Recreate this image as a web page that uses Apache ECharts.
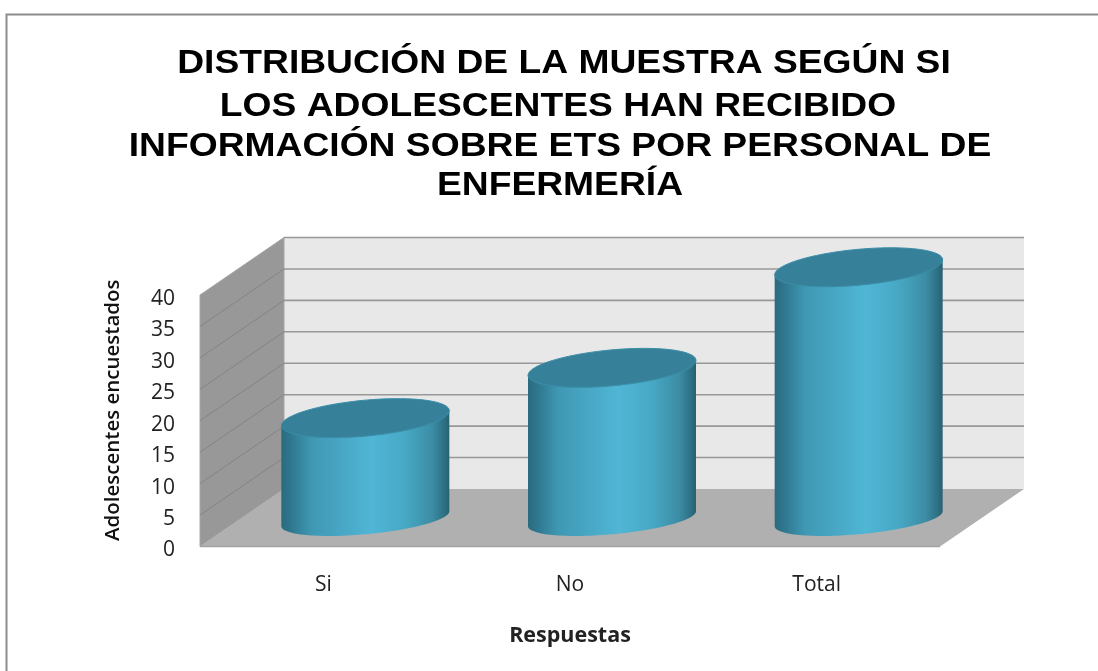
<!DOCTYPE html>
<html><head><meta charset="utf-8">
<style>html,body{margin:0;padding:0;background:#fff}#c{width:1098px;height:671px}</style>
<script src="https://cdn.jsdelivr.net/npm/echarts@6/dist/echarts.min.js"></script>
</head><body><div id="c"></div>
<script>
const categories = ['Si', 'No', 'Total'];
const values = [16, 24, 40];
const yTicks = [0, 5, 10, 15, 20, 25, 30, 35, 40];
const titleLines = [
  'DISTRIBUCIÓN DE LA MUESTRA SEGÚN SI',
  'LOS ADOLESCENTES HAN RECIBIDO',
  'INFORMACIÓN SOBRE ETS POR PERSONAL DE',
  'ENFERMERÍA'
];
const titleMiddles = [64, 107, 147, 186];
const titleCenters = [564, 558, 560, 560];
const depthX = 84, depthY = -57.5;

const bodyGradient = {type:'linear',x:0,y:0,x2:1,y2:0,colorStops:[
  {offset:0,color:'#2b6a7e'},{offset:0.06,color:'#2f7890'},{offset:0.18,color:'#3f98b3'},
  {offset:0.54,color:'#50b6d6'},{offset:0.74,color:'#47a8c4'},{offset:0.9,color:'#3c8ca4'},
  {offset:0.97,color:'#2d7084'},{offset:1,color:'#28606f'}]};

function ellipsePoints(cx, cy, a, tilt, b, from, to) {
  const pts = [];
  const n = 72;
  for (let i = 0; i <= n; i++) {
    const t = from + (to - from) * i / n;
    pts.push([cx + a * Math.cos(t), cy - tilt * Math.cos(t) + b * Math.sin(t)]);
  }
  return pts;
}

function renderWalls(params, api) {
  const cs = params.coordSys;
  const y0 = api.coord([0, 0])[1], yTop = api.coord([0, 40])[1];
  const xL = cs.x, xR = cs.x + cs.width;
  const poly = (points, fill, stroke) => ({type:'polygon', shape:{points},
    style:{fill, stroke: stroke || null, lineWidth: stroke ? 1 : 0}});
  return {type:'group', children:[
    poly([[xL+depthX,yTop+depthY],[xR+depthX,yTop+depthY],[xR+depthX,y0+depthY],[xL+depthX,y0+depthY]],'#e8e8e8'),
    poly([[xL,yTop],[xL+depthX,yTop+depthY],[xL+depthX,y0+depthY],[xL,y0]],'#989898','#a6a6a6'),
    poly([[xL,y0],[xL+depthX,y0+depthY],[xR+depthX,y0+depthY],[xR,y0]],'#b0b0b0'),
    {type:'line', shape:{x1:xL,y1:y0,x2:xR,y2:y0}, style:{stroke:'#a2a2a2',lineWidth:1.5}}
  ]};
}

function renderGrid(params, api) {
  const cs = params.coordSys;
  const t = api.value(1);
  const y = api.coord([0, t])[1];
  const xL = cs.x, xR = cs.x + cs.width;
  const kids = [];
  if (t > 0) {
    kids.push({type:'line', shape:{x1:xL+depthX,y1:y+depthY,x2:xR+depthX,y2:y+depthY},
      style:{stroke:'#8f8f8f',lineWidth:1.6,opacity:0.9}});
    if (t < 40) kids.push({type:'line', shape:{x1:xL,y1:y,x2:xL+depthX,y2:y+depthY},
      style:{stroke:'#848484',lineWidth:1}});
  }
  return {type:'group', children:kids};
}

function renderCylinder(params, api) {
  const c0 = api.coord([api.value(0), 0]);
  const c1 = api.coord([api.value(0), api.value(1)]);
  const cx = c0[0] + depthX / 2;
  const by = c0[1] + depthY / 2 + 1;
  const ty = c1[1] + depthY / 2 + 1;
  const a = 84, tilt = 7.5, bTop = 18, bBase = 15.5;
  const lower = ellipsePoints(cx, by, a, tilt, bBase, Math.PI, 0);
  const body = lower.concat([[cx + a, ty - tilt], [cx - a, ty + tilt]]);
  return {type:'group', children:[
    {type:'polygon', shape:{points:body}, style:{fill:bodyGradient}},
    {type:'polygon', shape:{points:ellipsePoints(cx, ty, a, tilt, bTop, 0, Math.PI*2)},
      style:{fill:'#37809a', stroke:'#3a8ea8', lineWidth:1}}
  ]};
}

const chart = echarts.init(document.getElementById('c'), null, {renderer:'canvas'});
chart.setOption({
  animation:false,
  backgroundColor:'#fff',
  graphic:[{type:'polyline',silent:true,shape:{points:[[6.5,671],[6.5,14.5],[1098,14.5]]},
    style:{stroke:'#8c8c8c',lineWidth:2,fill:null}}].concat(titleLines.map((text,i)=>({
      type:'text',silent:true,x:titleCenters[i],y:titleMiddles[i],scaleX:1.095,
      style:{text,textAlign:'center',textVerticalAlign:'middle',fill:'#000',
        font:'bold 34px "Liberation Sans"'}
    }))),
  grid:{left:200,top:295,width:740,height:251.5,containLabel:false},
  xAxis:{type:'category',data:categories,
    axisLine:{show:false},axisTick:{show:false},splitLine:{show:false},
    axisLabel:{fontFamily:'Open Sans',fontSize:21,color:'#222',margin:28},
    name:'Respuestas',nameLocation:'middle',nameGap:78,
    nameTextStyle:{fontFamily:'Open Sans',fontWeight:'bold',fontSize:21.5,color:'#222'}},
  yAxis:{type:'value',min:0,max:40,interval:5,
    axisLine:{show:false},axisTick:{show:false},splitLine:{show:false},
    axisLabel:{fontFamily:'Open Sans',fontSize:21,color:'#222',margin:25,verticalAlign:'top',lineHeight:8},
    name:'Adolescentes encuestados',nameLocation:'middle',nameGap:76,nameRotate:90,
    nameTextStyle:{fontFamily:'Open Sans',fontWeight:600,fontSize:20.5,color:'#111',padding:[0,0,0,21]}},
  series:[
    {type:'custom',silent:true,z:1,renderItem:renderWalls,data:[[0,0]],clip:false},
    {type:'custom',silent:true,z:2,renderItem:renderGrid,data:yTicks.map(t=>[0,t]),clip:false},
    {type:'custom',silent:true,z:3,renderItem:renderCylinder,
      data:values.map((v,i)=>[i,v]),clip:false}
  ]
});
</script></body></html>
